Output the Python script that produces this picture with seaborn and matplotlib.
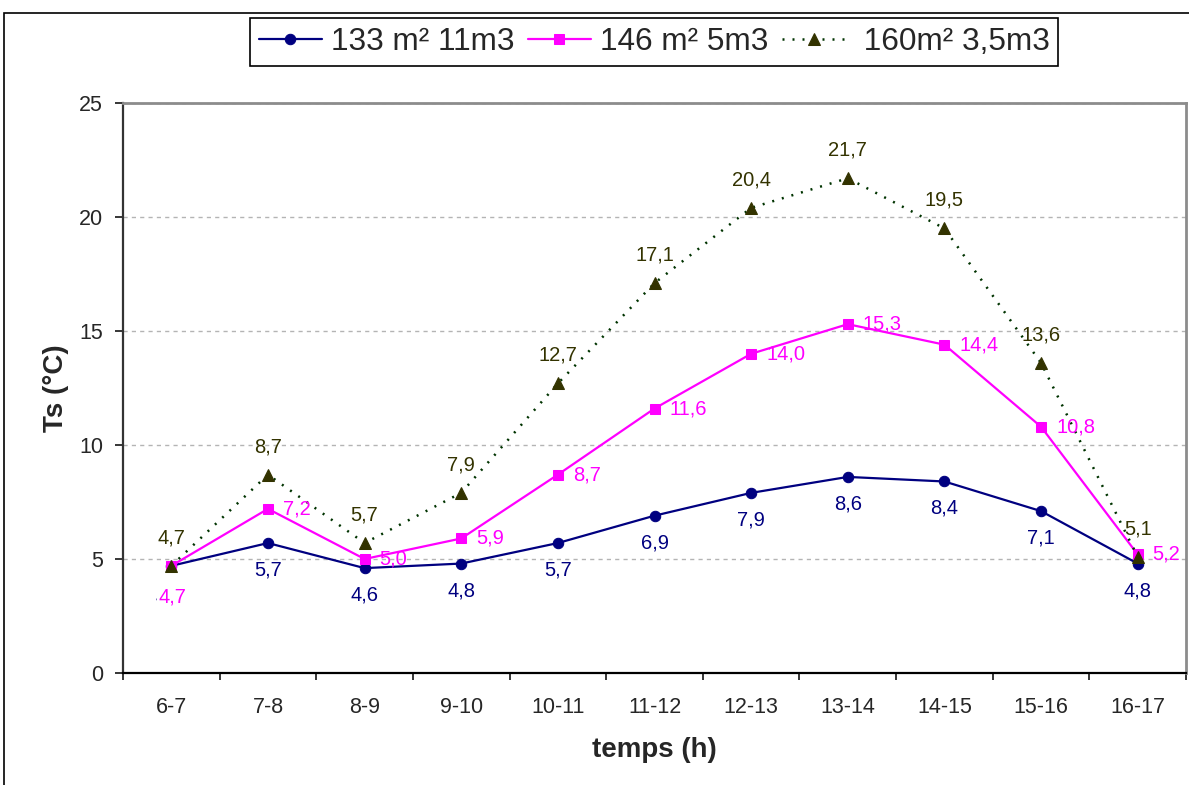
import numpy as np
import matplotlib
matplotlib.use("Agg")
import matplotlib.pyplot as plt
import seaborn as sns
from matplotlib.patches import Rectangle
from matplotlib.ticker import FixedLocator

# Hourly periods and surface temperatures (°C) for the three configurations
periods = ["6-7", "7-8", "8-9", "9-10", "10-11", "11-12", "12-13", "13-14", "14-15", "15-16", "16-17"]
t_133 = [4.7, 5.7, 4.6, 4.8, 5.7, 6.9, 7.9, 8.6, 8.4, 7.1, 4.8]
t_146 = [4.7, 7.2, 5.0, 5.9, 8.7, 11.6, 14.0, 15.3, 14.4, 10.8, 5.2]
t_160 = [4.7, 8.7, 5.7, 7.9, 12.7, 17.1, 20.4, 21.7, 19.5, 13.6, 5.1]
series_names = ["133 m² 11m3", "146 m² 5m3", " 160m² 3,5m3"]
y_ticks = [0, 5, 10, 15, 20, 25]

sns.set_style("white")
plt.rcParams["font.family"] = ["Liberation Sans", "DejaVu Sans"]

W, H = 1189, 785
fig = plt.figure(figsize=(W / 100, H / 100), dpi=100)
ax = fig.add_axes([123 / W, 1 - 673 / H, (1186 - 123) / W, (673 - 103) / H])

x = np.arange(len(periods))

navy = "#000080"
magenta = "#FF00FF"
olive = "#333300"
dotgreen = "#003300"

sns.lineplot(x=x, y=t_133, ax=ax, color=navy, lw=1.6, marker="o", markersize=7.5,
             markeredgecolor=navy, label=series_names[0], zorder=3)
sns.lineplot(x=x, y=t_146, ax=ax, color=magenta, lw=1.6, marker="s", markersize=7.5,
             markeredgecolor=magenta, label=series_names[1], zorder=4)
sns.lineplot(x=x, y=t_160, ax=ax, color=dotgreen, lw=1.8, linestyle=(0, (0.8, 3.2)),
             marker="^", markersize=9, markerfacecolor=olive, markeredgecolor=olive,
             label=series_names[2], zorder=5)
for ln in ax.get_lines():
    ln.set_dash_capstyle("butt")


def fmt(v):
    return f"{v:.1f}".replace(".", ",")


px = 72 / 100  # points per pixel
lab_fs = 14.5

# value labels
for i, v in enumerate(t_133):
    dy = -27 if i else -31
    dx = 0 if i else -1.5
    ax.annotate(fmt(v), (i, v), xytext=(dx * px, dy * px), textcoords="offset points",
                ha="center", va="center", fontsize=lab_fs, color=navy, zorder=6)
for i, v in enumerate(t_146):
    if i == 0:
        ax.annotate(fmt(v), (i, v), xytext=(1 * px, -31 * px), textcoords="offset points",
                    ha="center", va="center", fontsize=lab_fs, color=magenta, zorder=7,
                    bbox=dict(boxstyle="square,pad=0.05", fc="white", ec="none"))
    else:
        ax.annotate(fmt(v), (i, v), xytext=(15 * px, 0), textcoords="offset points",
                    ha="left", va="center", fontsize=lab_fs, color=magenta, zorder=7)
for i, v in enumerate(t_160):
    ax.annotate(fmt(v), (i, v), xytext=(0, 28 * px), textcoords="offset points",
                ha="center", va="center", fontsize=lab_fs, color=olive, zorder=7)

# axes limits, ticks
ax.set_xlim(-0.5, len(periods) - 0.5)
ax.set_ylim(0, 25)
ax.set_yticks(y_ticks)
ax.set_xticks(x)
ax.set_xticklabels(periods)
ax.xaxis.set_minor_locator(FixedLocator(np.arange(-0.5, len(periods), 1.0)))
ax.tick_params(axis="y", which="major", direction="out", length=5.8, width=1.1,
               color="black", pad=8.6, labelsize=15.5, left=True)
ax.tick_params(axis="x", which="major", length=0, pad=17, labelsize=15.5, bottom=True)
ax.tick_params(axis="x", which="minor", direction="out", length=5, width=1.1,
               color="black", bottom=True)

ax.yaxis.grid(True, color="#b4b4b4", lw=1, linestyle=(0, (3, 3)))
ax.xaxis.grid(False)
ax.set_axisbelow(True)

for side in ("top", "right"):
    ax.spines[side].set_color("#8c8c8c")
    ax.spines[side].set_linewidth(2)
ax.spines["left"].set_color("#333333")
ax.spines["left"].set_linewidth(1.6)
ax.spines["bottom"].set_color("black")
ax.spines["bottom"].set_linewidth(1.6)

ax.set_xlabel("temps (h)", fontsize=20, fontweight="bold")
ax.set_ylabel("Ts (°C)", fontsize=20, fontweight="bold", labelpad=7)
ax.xaxis.set_label_coords(0.5, -0.112)

# legend above the plot
handles, labels = ax.get_legend_handles_labels()
ax.get_legend().remove()
leg = fig.legend(handles, labels, loc="center", bbox_to_anchor=(654 / W, 1 - 42 / H),
                 ncol=3, frameon=True, fancybox=False, edgecolor="black", framealpha=1,
                 fontsize=22.7, handlelength=2.0, handletextpad=0.3, columnspacing=0.42,
                 borderpad=0.28, borderaxespad=0)
leg.get_frame().set_linewidth(1.2)

# chart-area border
fig.add_artist(Rectangle((3.5 / W, -0.05), 1.2, 1 - 12.5 / H + 0.05,
                         transform=fig.transFigure, fill=False, ec="black", lw=1.2))

fig.savefig("out.png", dpi=100)
